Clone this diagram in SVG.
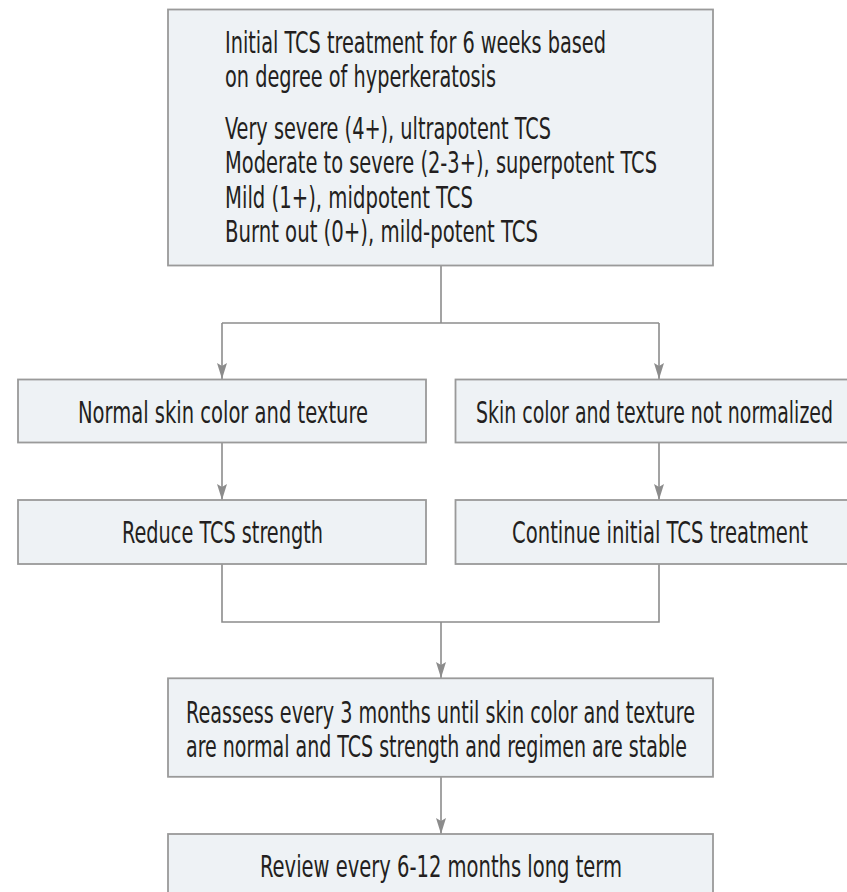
<svg xmlns="http://www.w3.org/2000/svg" width="847" height="892" viewBox="0 0 847 892">
<defs>
<style>
.box{fill:#eef2f5;stroke:#9a9a9a;stroke-width:1.8}
.t{font-family:'Liberation Sans Narrow','DejaVu Sans Condensed','Liberation Sans',sans-serif;font-size:31px;fill:#231f20}
.c{fill:none;stroke:#8c8c8c;stroke-width:1.6}
</style>
<marker id="ah" markerUnits="userSpaceOnUse" markerWidth="16" markerHeight="10" refX="16" refY="5" orient="auto" viewBox="0 0 16 10">
<path d="M0,0 L16,5 L0,10 L3,5 Z" fill="#8c8c8c"/>
</marker>
</defs>
<rect width="847" height="892" fill="#ffffff"/>
<g id="connectors">
<path class="c" d="M441,266 V323"/>
<path class="c" d="M222,323 H659"/>
<path class="c" d="M222,323 V379" marker-end="url(#ah)"/>
<path class="c" d="M659,323 V379" marker-end="url(#ah)"/>
<path class="c" d="M222,443 V500" marker-end="url(#ah)"/>
<path class="c" d="M659,443 V500" marker-end="url(#ah)"/>
<path class="c" d="M222,564 V622 H659 V564"/>
<path class="c" d="M441,622 V678" marker-end="url(#ah)"/>
<path class="c" d="M441,777 V834" marker-end="url(#ah)"/>
</g>
<g id="node-initial">
<rect class="box" x="168" y="9.5" width="545" height="256"/>
<text class="t" x="225" y="52.7" textLength="381" lengthAdjust="spacingAndGlyphs">Initial TCS treatment for 6 weeks based</text>
<text class="t" x="225" y="87.3" textLength="271" lengthAdjust="spacingAndGlyphs">on degree of hyperkeratosis</text>
<text class="t" x="225" y="138.5" textLength="326" lengthAdjust="spacingAndGlyphs">Very severe (4+), ultrapotent TCS</text>
<text class="t" x="225" y="173" textLength="432" lengthAdjust="spacingAndGlyphs">Moderate to severe (2-3+), superpotent TCS</text>
<text class="t" x="225" y="207.5" textLength="248" lengthAdjust="spacingAndGlyphs">Mild (1+), midpotent TCS</text>
<text class="t" x="225" y="242" textLength="313" lengthAdjust="spacingAndGlyphs">Burnt out (0+), mild-potent TCS</text>
</g>
<g id="node-normal">
<rect class="box" x="18" y="379.5" width="408" height="63"/>
<text class="t" x="78" y="423.3" textLength="290" lengthAdjust="spacingAndGlyphs">Normal skin color and texture</text>
</g>
<g id="node-not-normalized">
<rect class="box" x="455.5" y="379.5" width="408" height="63"/>
<text class="t" x="476" y="423.3" textLength="357" lengthAdjust="spacingAndGlyphs">Skin color and texture not normalized</text>
</g>
<g id="node-reduce">
<rect class="box" x="18" y="500" width="408" height="64"/>
<text class="t" x="122" y="543.3" textLength="201" lengthAdjust="spacingAndGlyphs">Reduce TCS strength</text>
</g>
<g id="node-continue">
<rect class="box" x="455.5" y="500" width="408" height="64"/>
<text class="t" x="512" y="543.3" textLength="296" lengthAdjust="spacingAndGlyphs">Continue initial TCS treatment</text>
</g>
<g id="node-reassess">
<rect class="box" x="168" y="678.3" width="545" height="98.5"/>
<text class="t" x="186" y="723.3" textLength="509" lengthAdjust="spacingAndGlyphs">Reassess every 3 months until skin color and texture</text>
<text class="t" x="186" y="756.7" textLength="501" lengthAdjust="spacingAndGlyphs">are normal and TCS strength and regimen are stable</text>
</g>
<g id="node-review">
<rect class="box" x="168" y="834" width="545" height="80"/>
<text class="t" x="260" y="876.7" textLength="362" lengthAdjust="spacingAndGlyphs">Review every 6-12 months long term</text>
</g>
</svg>
